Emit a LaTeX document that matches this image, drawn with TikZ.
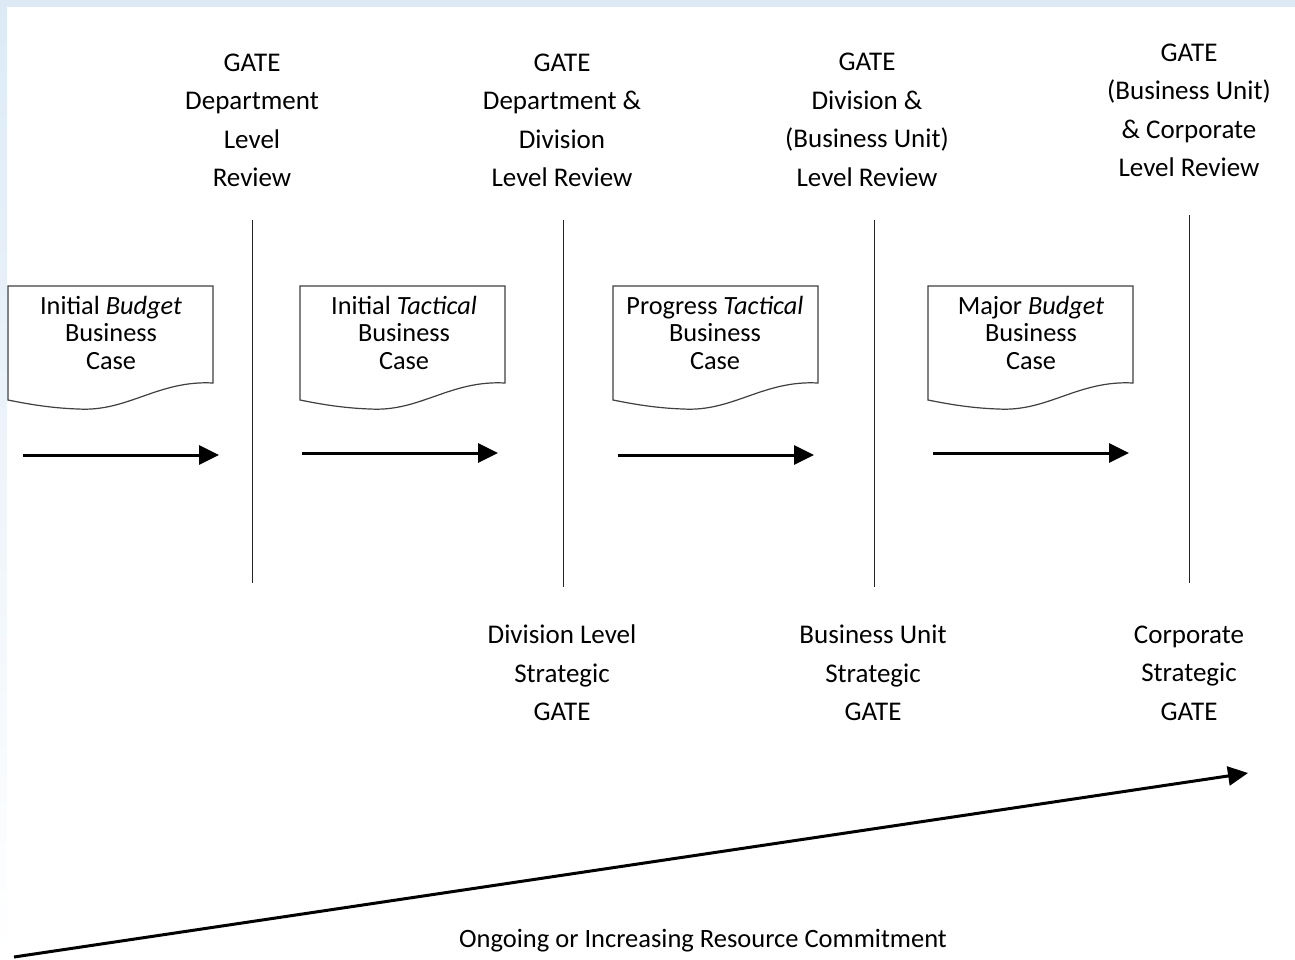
\documentclass[tikz,border=0pt]{standalone}
\usepackage{fontspec}
\setmainfont{Carlito}
\usetikzlibrary{arrows.meta,calc}
\definecolor{framecol}{RGB}{221,234,246}
\begin{document}
\begin{tikzpicture}[x=1pt,y=-1pt,
  lbl/.style={align=center,font=\fontsize{27}{38.5}\selectfont,inner sep=0pt},
  boxtxt/.style={align=center,font=\fontsize{26.3}{27.5}\selectfont,inner sep=0pt},
  gate/.style={line width=1pt,draw=black!85},
  flow/.style={line width=3pt,-{Triangle[length=20pt,width=19pt]}},
  doc/.style={line width=1.2pt,draw=black!75}]
\useasboundingbox (0,0) rectangle (1295,959);
% frame and page
\fill[framecol] (0,0) rectangle (1295,7);
\shade[top color=framecol,bottom color=white] (0,0) rectangle (7,959);
\fill[white] (7,7) rectangle (1295,959);

% document outline, drawn from its left edge x
\newcommand\docoutline[1]{%
  \begin{scope}[shift={(#1,0)}]
    \draw[doc] (0,286) -- (205,286) -- (205,383)
      .. controls (150,380) and (120,412) .. (70,409)
      .. controls (40,408) and (15,403) .. (0,400) -- cycle;
  \end{scope}}

\docoutline{8}
\docoutline{300}
\docoutline{613}
\docoutline{928}

\node[boxtxt] (b1) at (111,332.5) {Initial \textit{Budget}\\Business\\Case};
\node[boxtxt] (b2) at (404,332.5) {Initial \textit{Tactical}\\Business\\Case};
\node[boxtxt] (b3) at (715,332.5) {Progress \textit{Tactical}\\Business\\Case};
\node[boxtxt] (b4) at (1031,332.5) {Major \textit{Budget}\\Business\\Case};

% gate review labels
\node[lbl] (t1) at (252,120.5) {GATE\\Department\\Level\\Review};
\node[lbl] (t2) at (562,120.5) {GATE\\Department \&\\Division\\Level Review};
\node[lbl] (t3) at (867,120) {GATE\\Division \&\\(Business Unit)\\Level Review};
\node[lbl] (t4) at (1189,110.5) {GATE\\(Business Unit)\\\& Corporate\\Level Review};

% strategic gate labels
\node[lbl] (s2) at (562,673) {Division Level\\Strategic\\GATE};
\node[lbl] (s3) at (873,673) {Business Unit\\Strategic\\GATE};
\node[lbl] (s4) at (1189,673) {Corporate\\Strategic\\GATE};

% gate lines
\coordinate (g1t) at (252,220); \coordinate (g1b) at (252,583);
\coordinate (g2t) at (563,220); \coordinate (g2b) at (563,587);
\coordinate (g3t) at (874,220); \coordinate (g3b) at (874,587);
\coordinate (g4t) at (1189,215); \coordinate (g4b) at (1189,583);
\draw[gate] (g1t) -- (g1b);
\draw[gate] (g2t) -- (g2b);
\draw[gate] (g3t) -- (g3b);
\draw[gate] (g4t) -- (g4b);

% stage arrows
\coordinate (a1s) at (23,455);  \coordinate (a1e) at (219,455);
\coordinate (a2s) at (302,453); \coordinate (a2e) at (498,453);
\coordinate (a3s) at (618,455); \coordinate (a3e) at (814,455);
\coordinate (a4s) at (933,453); \coordinate (a4e) at (1129,453);
\draw[flow] (a1s) -- (a1e);
\draw[flow] (a2s) -- (a2e);
\draw[flow] (a3s) -- (a3e);
\draw[flow] (a4s) -- (a4e);

% resource commitment arrow
\coordinate (rs) at (14,957); \coordinate (re) at (1248,773);
\draw[flow] (rs) -- (re);
\node[font=\fontsize{26.5}{30}\selectfont,inner sep=0pt] (rc) at (703,941) {Ongoing or Increasing Resource Commitment};
\end{tikzpicture}
\end{document}
